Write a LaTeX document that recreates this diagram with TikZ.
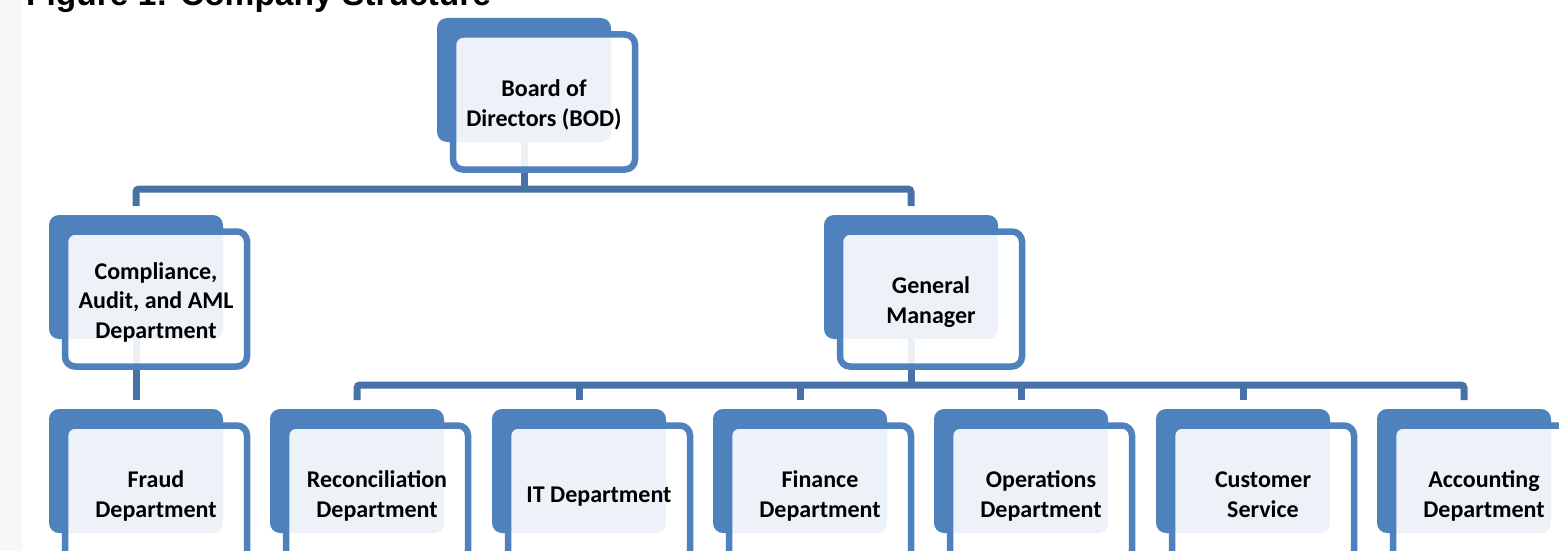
\documentclass[tikz,border=0pt]{standalone}
\usepackage{fontspec}
\setmainfont{Carlito}
\newfontfamily\titlefont{Liberation Sans}
\definecolor{boxblue}{HTML}{4F81BD}
\definecolor{linkblue}{HTML}{4672A8}
\definecolor{stripgray}{HTML}{F7F7F7}

\begin{document}
\begin{tikzpicture}[
x=1pt, y=1pt,
   back/.style = {rectangle, rounded corners=10pt, fill=boxblue,% blue card behind
                  minimum width=174pt, minimum height=124pt,
                  inner sep=0pt, outer sep=0pt},
  front/.style = {rectangle, rounded corners=10pt, draw=boxblue,% framed card with text
                  line width=6.5pt, fill=white, fill opacity=0.9, text opacity=1,
                  minimum width=182pt, minimum height=135pt, align=center,
                  font=\bfseries\fontsize{24}{29.5}\selectfont},
   link/.style = {draw=linkblue, line width=7pt, rounded corners=3pt},
                    ]
\useasboundingbox (0,0) rectangle (1559,-551);
\clip (0,0) rectangle (1559,-551);
\fill[white] (0,0) rectangle (1559,-551);
\fill[stripgray] (0,0) rectangle (22,-551);
\node[anchor=base west, inner sep=0pt,
      font=\titlefont\bfseries\fontsize{33.5}{40}\selectfont] (title) at (26,-6)
      {Figure 1: Company Structure};
% blue cards
\node[back] (bod) at (524,-80) {};
\node[back] (cad) at (136,-277) {};
\node[back] (gm)  at (911,-277) {};
\foreach \n/\x in {fraud/136, recon/357, it/579, fin/800, ops/1021, cs/1243, acc/1464}
    \node[back] (\n) at (\x,-471) {};
% connectors
\coordinate (bar1) at (0,-189);
\coordinate (bar2) at (0,-385);
\draw[link] (bod.south) -- (bod |- bar1);
\draw[link] ([yshift=9pt]cad.north) |- (bar1 -| gm) -- ([yshift=9pt]gm.north);
\draw[link] (cad.south) -- ([yshift=9pt]fraud.north);
\draw[link] (gm.south) -- (gm |- bar2);
\draw[link] ([yshift=9pt]recon.north) |- (bar2 -| acc) -- ([yshift=9pt]acc.north);
\foreach \n in {it,fin,ops,cs}
    \draw[link] (\n |- bar2) -- ([yshift=9pt]\n.north);
% framed cards with text (struts keep first and last lines alike)
\foreach \n/\t in {bod/{Board of\\Directors (BOD)},
                   cad/{Compliance,\\Audit, and AML\\Department},
                   gm/{General\\Manager},
                   fraud/{Fraud\\Department},
                   recon/{Reconciliation\\Department},
                   it/{IT Department},
                   fin/{Finance\\Department},
                   ops/{Operations\\Department},
                   cs/{Customer\\Service},
                   acc/{Accounting\\Department}}
    \node[front] (\n-txt) at ([shift={(20,-22)}]\n)
        {\rule{0pt}{26pt}\t\rule[-7pt]{0pt}{7pt}};
\end{tikzpicture}
\end{document}
